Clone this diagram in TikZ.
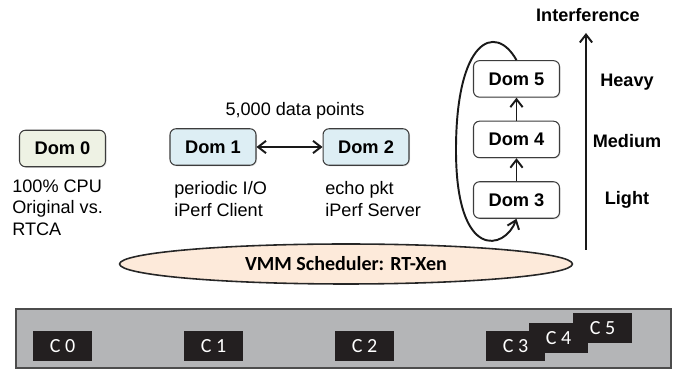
\documentclass[tikz,border=0pt]{standalone}
\usepackage{fontspec}
\setmainfont{Liberation Sans}
\newfontfamily\calfont{Carlito}
\usetikzlibrary{positioning,arrows,arrows.meta}
\usetikzlibrary{shapes.geometric,shadows}
\definecolor{greenbox}{RGB}{238,242,228}
\definecolor{bluebox}{RGB}{221,238,244}
\definecolor{peach}{RGB}{253,234,218}
\definecolor{hwgray}{RGB}{180,181,183}
\definecolor{chip}{RGB}{35,31,32}
\definecolor{edge}{RGB}{60,60,60}
\tikzstyle{dom}=[draw=edge, fill=white, rounded corners=3.4pt, line width=0.6pt, minimum width=1.72cm, minimum height=0.73cm, drop shadow={shadow xshift=0.6pt, shadow yshift=-0.6pt, opacity=0.2}, font=\fontsize{10.4}{12}\selectfont\bfseries]
\tikzstyle{note}=[inner sep=0pt, anchor=north west, align=left, font=\fontsize{10.3}{12.1}\selectfont]
\tikzstyle{lvl}=[font=\fontsize{10.3}{12}\selectfont\bfseries]
\tikzstyle{core}=[fill=chip, text=white, minimum width=1.18cm, minimum height=0.6cm, inner sep=0pt, font=\calfont\fontsize{11.4}{13}\selectfont]
\tikzstyle{link}=[line width=1.1pt, color=black!90]

\begin{document}
\begin{tikzpicture}[x=0.02cm, y=0.02cm, >={Straight Barb[length=4.5pt,width=7pt]}]
	\useasboundingbox (0,0) rectangle (681,-371);

	% guest domains
	\node[dom, fill=greenbox] (d0) at (62.5,-148.5) {Dom 0};
	\node[dom, fill=bluebox] (d1) at (213,-147) {Dom 1};
	\node[dom, fill=bluebox] (d2) [right=1.32cm of d1] {Dom 2};
	\node[dom] (d3) at (516.5,-200) {Dom 3};
	\node[dom] (d4) [above=0.46cm of d3] {Dom 4};
	\node[dom] (d5) [above=0.46cm of d4] {Dom 5};

	\node[note] (t0) at (12,-179.5) {100\% CPU\\Original vs.\\RTCA};
	\node[note] (t1) at (174,-181.5) {periodic I/O\\iPerf Client};
	\node[note] (t2) at (325,-181.5) {echo pkt\\iPerf Server};
	\node (pts) at (295,-111) {\fontsize{10.3}{12}\selectfont 5,000 data points};

	% interference levels
	\node[lvl] (intf) at (588,-15) {Interference};
	\node[lvl] (heavy) at (627,-82) {Heavy};
	\node[lvl] (medium) at (627,-141) {Medium};
	\node[lvl] (light) at (627,-200) {Light};
	\coordinate (ibot) at (586,-250);
	\coordinate (itop) at (586,-33);

	% scheduler and cores
	\node[ellipse, draw=black!85, line width=0.9pt, fill=peach, minimum width=9.06cm, minimum height=0.8cm, font=\calfont\fontsize{11.4}{13}\selectfont\bfseries] (vmm) at (346,-264) {VMM Scheduler: RT-Xen};
	\draw[draw=black!70, line width=0.6pt, fill=hwgray] (16,-309) rectangle (671,-368);
	\node[core] (c0) at (62.5,-346) {C 0};
	\node[core] (c1) at (213.5,-346) {C 1};
	\node[core] (c2) at (364.5,-346) {C 2};
	\node[core] (c3) at (515.5,-346) {C 3};
	\node[core] (c4) at (558.5,-338) {C 4};
	\node[core] (c5) at (602.5,-328.5) {C 5};

	\draw[link, <->] (d1) -- (d2);
	\draw[link, ->] (d3) -- (d4);
	\draw[link, ->] (d4) -- (d5);
	\draw[link, ->] (d5.north) .. controls (495,-22) and (456,-40) .. (456,-150) .. controls (456,-262) and (505,-250) .. (d3.south);
	\draw[link, ->] (ibot) -- (itop);

\end{tikzpicture}
\end{document}
